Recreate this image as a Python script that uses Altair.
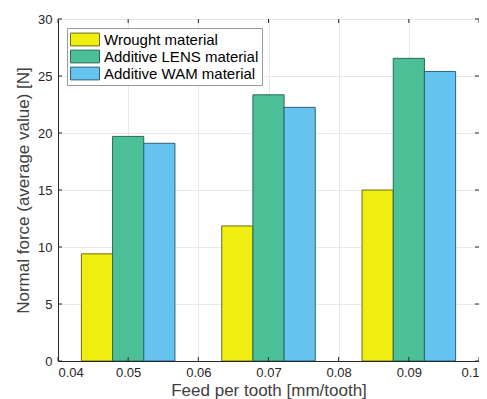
import altair as alt
import pandas as pd

feeds = [0.05, 0.07, 0.09]
materials = ["Wrought material", "Additive LENS material", "Additive WAM material"]
wrought = [9.4, 11.85, 15.0]
lens = [19.7, 23.35, 26.55]
wam = [19.1, 22.25, 25.4]
fill_colors = ["#EFEE10", "#4BBF96", "#66C2EE"]
edge_colors = ["#6E6C10", "#2E6A58", "#2D6278"]
y_ticks = [0, 5, 10, 15, 20, 25, 30]
x_ticks = [0.04, 0.05, 0.06, 0.07, 0.08, 0.09, 0.1]

rows = []
for i, (m, vals) in enumerate(zip(materials, [wrought, lens, wam])):
    for f, v in zip(feeds, vals):
        rows.append({"feed": f, "material": m, "idx": i, "force": v})
df = pd.DataFrame(rows)

W, H = 421, 342
bw = 0.02 * (2 / 3) / 3
FONT = "Liberation Sans"

xscale = alt.Scale(domain=[0.04, 0.1], nice=False, zero=False)
yscale = alt.Scale(domain=[0, 30], nice=False)

bars = alt.Chart(df).transform_calculate(
    x0=f"datum.feed + (datum.idx - 1.5) * {bw}",
    x1=f"datum.feed + (datum.idx - 0.5) * {bw}",
).mark_bar(strokeWidth=1, clip=True).encode(
    x=alt.X("x0:Q", scale=xscale,
            axis=alt.Axis(values=x_ticks, title="Feed per tooth [mm/tooth]",
                          labelExpr="format(datum.value, '.2~f')",
                          tickSize=0, labelPadding=5, titlePadding=3,
                          grid=True)),
    x2="x1:Q",
    y=alt.Y("force:Q", scale=yscale,
            axis=alt.Axis(values=y_ticks, title="Normal force (average value) [N]",
                          tickSize=0, labelPadding=6, titlePadding=5, grid=True)),
    y2=alt.datum(0),
    color=alt.Color("material:N", sort=materials,
                    scale=alt.Scale(domain=materials, range=fill_colors),
                    legend=alt.Legend(title=None, orient="none", legendX=9, legendY=9)),
    stroke=alt.Stroke("material:N", sort=materials,
                      scale=alt.Scale(domain=materials, range=edge_colors),
                      legend=None),
)

ydf = pd.DataFrame({"v": y_ticks})
xdf = pd.DataFrame({"v": x_ticks})
tick_color = "#262626"
ytl = alt.Chart(ydf).mark_rule(color=tick_color).encode(
    y=alt.Y("v:Q", scale=yscale), x=alt.value(0), x2=alt.value(4))
ytr = alt.Chart(ydf).mark_rule(color=tick_color).encode(
    y=alt.Y("v:Q", scale=yscale), x=alt.value(W - 4), x2=alt.value(W))
xtb = alt.Chart(xdf).mark_rule(color=tick_color).encode(
    x=alt.X("v:Q", scale=xscale), y=alt.value(H - 4), y2=alt.value(H))
xtt = alt.Chart(xdf).mark_rule(color=tick_color).encode(
    x=alt.X("v:Q", scale=xscale), y=alt.value(0), y2=alt.value(4))

chart = alt.layer(bars, ytl, ytr, xtb, xtt).properties(
    width=W, height=H,
    autosize=alt.AutoSizeParams(type="none"),
    padding={"left": 50, "top": 11, "right": 0, "bottom": 40},
).configure_view(
    stroke="#262626", strokeWidth=1
).configure_axis(
    labelFont=FONT, titleFont=FONT, labelFontSize=13, titleFontSize=17,
    labelColor="#262626", titleColor="#404040", titleFontWeight="normal",
    gridColor="#E8E8E8", gridWidth=1, domainColor="#262626", domain=True,
).configure_legend(
    labelFont=FONT, labelFontSize=15, labelColor="#000000",
    symbolType="M-1,-0.8L2.625,-0.8L2.625,0.8L-1,0.8Z", symbolSize=256,
    symbolStrokeColor="#333333", symbolStrokeWidth=1, symbolOpacity=1,
    fillColor="#FFFFFF", strokeColor="#999999", padding=3,
    rowPadding=0, labelOffset=17,
)

chart.save("out.html", embed_options={"renderer": "svg", "actions": False})
